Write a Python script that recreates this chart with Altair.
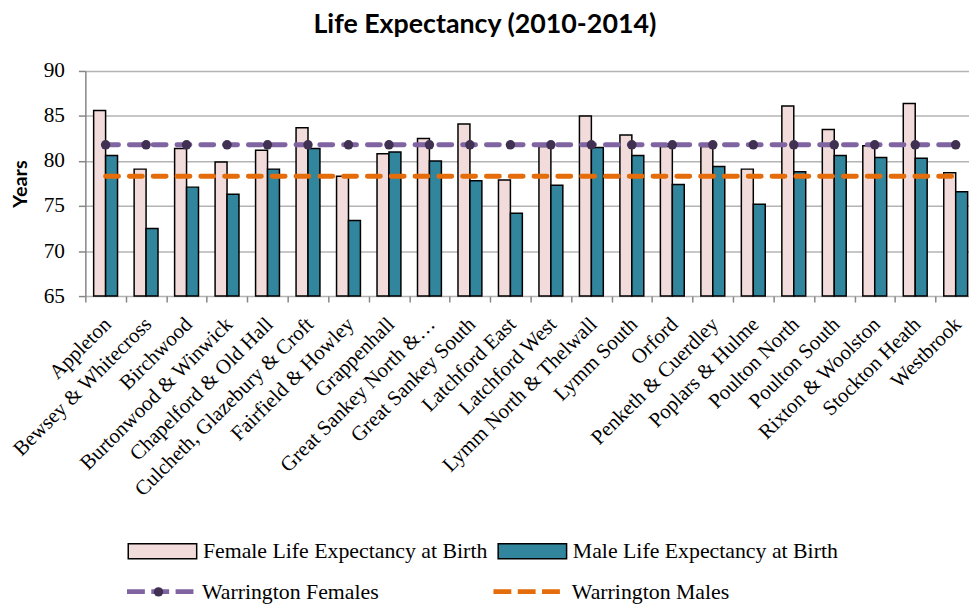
import altair as alt
import pandas as pd

wards = [
    "Appleton", "Bewsey & Whitecross", "Birchwood", "Burtonwood & Winwick",
    "Chapelford & Old Hall", "Culcheth, Glazebury & Croft", "Fairfield & Howley",
    "Grappenhall", "Great Sankey North &…", "Great Sankey South", "Latchford East",
    "Latchford West", "Lymm North & Thelwall", "Lymm South", "Orford",
    "Penketh & Cuerdley", "Poplars & Hulme", "Poulton North", "Poulton South",
    "Rixton & Woolston", "Stockton Heath", "Westbrook",
]
female = [85.6, 79.1, 81.4, 79.9, 81.2, 83.7, 78.3, 80.8, 82.5, 84.1, 77.9,
          81.6, 85.0, 82.9, 81.6, 81.6, 79.1, 86.1, 83.5, 81.7, 86.4, 78.7]
male = [80.6, 72.5, 77.1, 76.3, 79.1, 81.4, 73.4, 81.0, 80.0, 77.8, 74.2,
        77.3, 81.5, 80.6, 77.4, 79.4, 75.2, 78.8, 80.6, 80.4, 80.3, 76.6]
warrington_female = 81.8
warrington_male = 78.3
y_ticks = [65, 70, 75, 80, 85, 90]

FEMALE = "Female Life Expectancy at Birth"
MALE = "Male Life Expectancy at Birth"
WF = "Warrington Females"
WM = "Warrington Males"

n = len(wards)
bars_df = pd.DataFrame({
    "Ward": wards * 2,
    "Series": [FEMALE] * n + [MALE] * n,
    "Value": female + male,
})
wf_df = pd.DataFrame({"Ward": wards, "Series": [WF] * n, "Value": [warrington_female] * n})
wm_df = pd.DataFrame({"Ward": wards, "Series": [WM] * n, "Value": [warrington_male] * n})

# The last category runs past the visible right edge, as in the reference.
FULL = 898
VIEW_W = 891
STEP = FULL / n
P_IN = 0.41
P_OUT = (VIEW_W / STEP - (n - P_IN)) / 2
LEFTOVER = VIEW_W - STEP * (n - P_IN)
ALIGN = (P_IN / 2 * STEP) / LEFTOVER

SERIF = "Liberation Serif"
SANS = "Lato"

x_scale = alt.Scale(paddingInner=P_IN, paddingOuter=P_OUT, align=ALIGN, round=False)
x_axis = alt.Axis(
    title=None, labelAngle=-45, labelAlign="right", labelBaseline="middle",
    labelFont=SERIF, labelFontSize=21, labelColor="black", labelPadding=19,
    labelLimit=400, labelOverlap=False, domain=False, tickSize=6,
    tickColor="#868686", tickWidth=1.5, tickOffset=-STEP / 2, labelOffset=STEP / 2 + 2,
    grid=False,
)
x_enc = alt.X("Ward:N", sort=wards, scale=x_scale, axis=x_axis)

y_scale = alt.Scale(domain=[65, 90], zero=False, nice=False)
y_axis = alt.Axis(
    title="Years", values=y_ticks, titleFont=SANS, titleFontSize=20,
    titleFontWeight="bold", titleColor="black", titlePadding=13,
    labelFont=SERIF, labelFontSize=21.5, labelColor="black", labelPadding=14,
    grid=True, gridColor="#b4b4b4", gridWidth=1.5,
    domainColor="#868686", domainWidth=1.5, tickColor="#868686",
    tickWidth=1.5, tickSize=7,
)
y_enc = alt.Y("Value:Q", scale=y_scale, axis=y_axis)

LEG_FONT = 22

bars = alt.Chart(bars_df).mark_bar(stroke="black", strokeWidth=1.5).encode(
    x=x_enc,
    xOffset=alt.XOffset("Series:N", sort=[FEMALE, MALE],
                        scale=alt.Scale(paddingInner=0, paddingOuter=0)),
    y=y_enc,
    y2=alt.datum(65),
    fill=alt.Fill(
        "Series:N",
        scale=alt.Scale(domain=[FEMALE, MALE], range=["#f2dcdb", "#31859c"]),
        legend=alt.Legend(
            orient="none", legendX=42.25, legendY=448.5, direction="horizontal",
            title=None, symbolType="M-1,-0.22H1V0.22H-1Z", symbolSize=4761,
            symbolStrokeColor="black", symbolStrokeWidth=1.5, symbolOpacity=1,
            labelFont=SERIF, labelFontSize=LEG_FONT, labelColor="black",
            labelOffset=5.25, columnPadding=7, padding=0, labelLimit=500,
        ),
    ),
)

male_line = alt.Chart(wm_df).mark_line(strokeWidth=5, strokeDash=[13, 11], strokeCap="round").encode(
    x=x_enc,
    y=y_enc,
    color=alt.Color(
        "Series:N",
        scale=alt.Scale(domain=[WM], range=["#e46c0a"]),
        legend=alt.Legend(
            orient="none", legendX=409, legendY=489, title=None,
            symbolType="M-1,0H1", symbolSize=4489, symbolStrokeWidth=5,
            symbolDash=[18, 6.5], labelFont=SERIF, labelFontSize=LEG_FONT,
            labelColor="black", labelOffset=9.5, padding=0, labelLimit=500,
        ),
    ),
)

female_line = alt.Chart(wf_df).mark_line(strokeWidth=5, strokeDash=[13, 11], strokeCap="round").encode(
    x=x_enc,
    y=y_enc,
    stroke=alt.Stroke(
        "Series:N",
        scale=alt.Scale(domain=[WF], range=["#8064a2"]),
        legend=alt.Legend(
            orient="none", legendX=39.5, legendY=489, title=None,
            symbolType="M-1,0H1", symbolSize=4489, symbolStrokeWidth=5,
            symbolDash=[18, 6.5], labelFont=SERIF, labelFontSize=LEG_FONT,
            labelColor="black", labelOffset=6, padding=0, zindex=1, labelLimit=500,
        ),
    ),
)

female_dots = alt.Chart(wf_df).mark_point(filled=True, size=90, color="#403152", opacity=1).encode(
    x=x_enc,
    y=y_enc,
    shape=alt.Shape(
        "Series:N",
        scale=alt.Scale(domain=[WF], range=["circle"]),
        legend=alt.Legend(
            orient="none", legendX=68.76, legendY=520.25, title=None,
            symbolSize=90, symbolFillColor="#403152", symbolStrokeWidth=0,
            symbolOpacity=1, labelExpr="''", labelFontSize=1, padding=0, zindex=2,
        ),
    ),
)

chart = alt.layer(bars, male_line, female_line, female_dots).resolve_scale(
    color="independent", stroke="independent", shape="independent", fill="independent"
).properties(
    width=VIEW_W,
    height=227,
    autosize=alt.AutoSizeParams(type="none"),
    padding={"left": 78, "top": 61, "right": 0, "bottom": 310},
    title=alt.TitleParams(
        "Life Expectancy (2010-2014)", font=SANS, fontSize=27, fontWeight="bold",
        color="black", anchor="middle", frame="bounds", offset=21, dx=-4,
    ),
).configure_view(strokeWidth=0)

chart.save("out.html", embed_options={"renderer": "svg", "actions": False})
